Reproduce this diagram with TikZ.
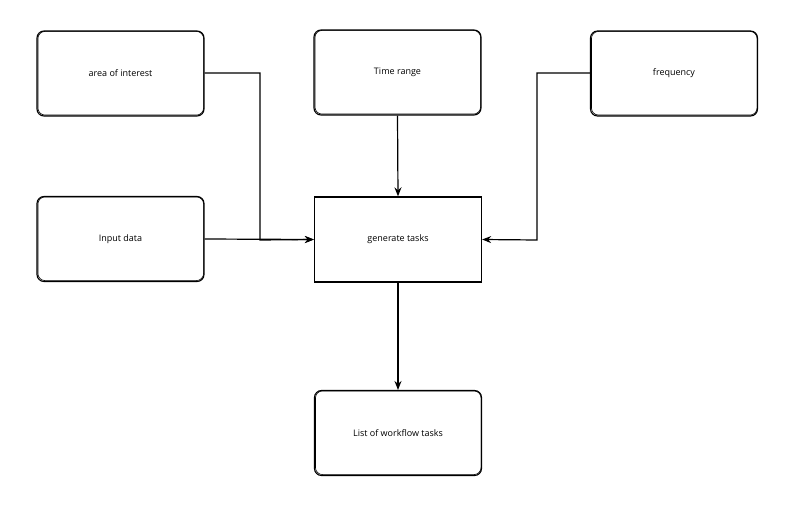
\documentclass[tikz,border=0pt]{standalone}
\usepackage{fontspec}
\setmainfont{Open Sans}
\usetikzlibrary{arrows.meta,positioning}
\begin{document}
\begin{tikzpicture}[x=1pt,y=-1pt,
  box/.style={draw=black,line width=1.1pt,rounded corners=7pt,minimum width=167pt,minimum height=85pt,inner sep=0pt,font=\small,
    append after command={\pgfextra{\draw[line width=0.6pt,rounded corners=7pt] ([xshift=1.5pt,yshift=-1pt]\tikzlastnode.north west) rectangle ([xshift=-1pt,yshift=1.5pt]\tikzlastnode.south east);}}},
  sbox/.style={draw=black,line width=1.3pt,minimum width=167pt,minimum height=85pt,inner sep=0pt,font=\small},
  arr/.style={line width=1.2pt,-{Stealth[length=9pt,width=7pt]}}]
\useasboundingbox (0,0) rectangle (792,508);
\node[box] (aoi) at (120.5,73.5) {area of interest};
\node[box] (time) at (397.5,72.5) {Time range};
\node[box] (freq) at (674,73.5) {frequency};
\node[box] (input) at (120.5,239) {Input data};
\node[sbox] (gen) at (398,239.5) {generate tasks};
\node[box] (list) at (398,433) {List of workflow tasks};
\coordinate (c1) at (260,73);
\coordinate (c2) at (537,73);
\draw[arr] (aoi.east |- c1) -- (c1) -- (260,240) -- (gen.west);
\draw[arr] (input.east) -- (gen.west);
\draw[arr] (time.south) -- (gen.north);
\draw[arr] (freq.west |- c2) -- (c2) -- (537,240) -- (gen.east);
\draw[arr] (gen.south) -- (list.north);
\end{tikzpicture}
\end{document}
